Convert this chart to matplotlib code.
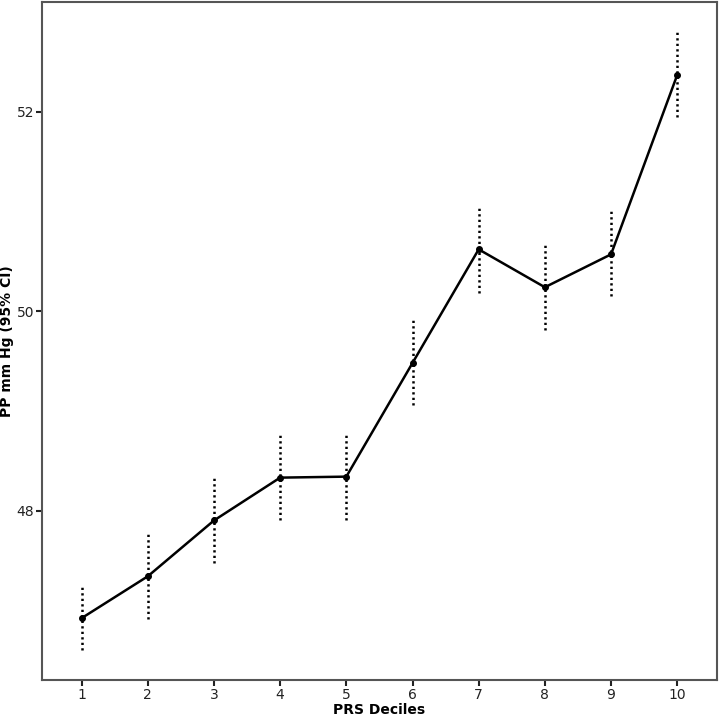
import matplotlib
matplotlib.use("Agg")
import matplotlib.pyplot as plt

# PRS deciles and estimated PP (mm Hg) with 95% CI
deciles = [1, 2, 3, 4, 5, 6, 7, 8, 9, 10]
pp_mean = [46.92, 47.34, 47.90, 48.33, 48.34, 49.48, 50.62, 50.24, 50.57, 52.37]
ci_low = [46.60, 46.91, 47.47, 47.90, 47.90, 49.06, 50.18, 49.81, 50.15, 51.95]
ci_high = [47.24, 47.78, 48.33, 48.77, 48.77, 49.92, 51.05, 50.68, 51.01, 52.80]

fig = plt.figure(figsize=(7.22, 7.16), dpi=100)
ax = fig.add_axes([0.058, 0.0503, 0.935, 0.9467])

# dotted CI lines
ax.vlines(deciles, ci_low, ci_high, colors="black", linestyles=(0, (0.9, 1.3)), linewidth=1.8)
ax.plot(deciles, pp_mean, color="black", linewidth=1.8, marker="o", markersize=4)

ax.set_xlim(0.4, 10.6)
ax.set_ylim(46.30, 53.10)
ax.set_xticks(deciles)
ax.set_yticks([48, 50, 52])

for s in ax.spines.values():
    s.set_color("#555555")
    s.set_linewidth(1.5)
ax.tick_params(colors="#222222", labelsize=10, length=4, width=1.5, pad=1.5)
for lbl in ax.get_xticklabels() + ax.get_yticklabels():
    lbl.set_fontweight("medium")
ax.set_xlabel("PRS Deciles", fontsize=10, fontweight="semibold")
ax.set_ylabel("PP mm Hg (95% CI)", fontsize=10, fontweight="semibold")
ax.xaxis.set_label_coords(0.5, -0.034)
ax.yaxis.set_label_coords(-0.041, 0.5)

fig.savefig("out.png", dpi=100)
